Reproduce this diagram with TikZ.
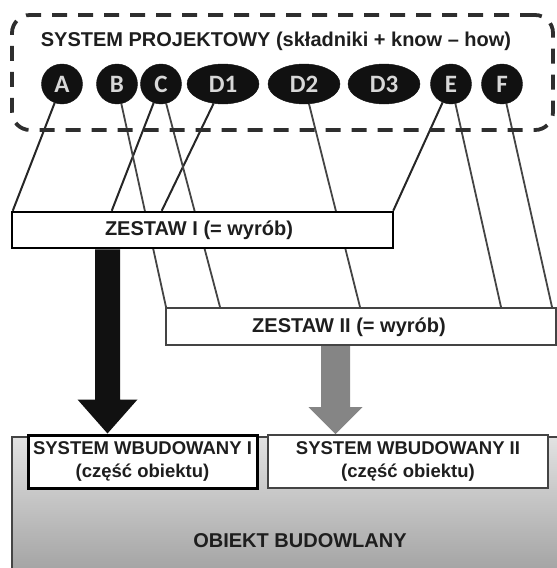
\documentclass[tikz,border=0pt]{standalone}
\usepackage{fontspec}
\setmainfont{Liberation Sans}
\newfontfamily\letterfont{Carlito}
\usetikzlibrary{shapes.geometric,calc,backgrounds}
\definecolor{ink}{HTML}{1E1E1E}
\definecolor{linec}{HTML}{262626}
\definecolor{linec2}{HTML}{444444}
\definecolor{ellc}{HTML}{111111}
\definecolor{lettc}{HTML}{D8D8D8}
\definecolor{dashc}{HTML}{2E2E2E}
\definecolor{arrowgray}{HTML}{858585}
\definecolor{shadetop}{HTML}{E2E2E2}
\definecolor{shadebot}{HTML}{A2A2A2}
\begin{document}
\begin{tikzpicture}[x=1pt,y=-1pt,
  ell/.style={ellipse, fill=ellc, draw=ellc, inner sep=0pt, minimum height=40pt,
    text=lettc, font=\letterfont\bfseries\fontsize{25}{25}\selectfont},
  circ/.style={ell, minimum width=41pt},
  oval/.style={ell, minimum width=72pt},
  link/.style={draw=linec, line width=2pt},
  link2/.style={draw=linec2, line width=1.8pt},
  lbl/.style={text=ink, font=\bfseries\fontsize{20}{23}\selectfont, inner sep=0pt},
  sublbl/.style={text=ink, font=\bfseries\fontsize{18.5}{23}\selectfont, align=center, inner sep=0pt},
  zbox/.style={rectangle, fill=white, inner sep=0pt},
]
\useasboundingbox (0,0) rectangle (557,568);

% design system container
\node[draw=dashc, line width=3.8pt, dash pattern=on 15pt off 11pt, rounded corners=18pt,
  minimum width=541pt, minimum height=115pt, inner sep=0pt] (sys) at (282.5,72.5) {};
\node[lbl] (title) at (276,41) {SYSTEM PROJEKTOWY (składniki + know – how)};

% components
\node[circ] (A) at (62,84) {A};
\node[circ] (B) at (117,84) {B};
\node[circ] (C) at (161,84) {C};
\node[oval] (D1) at (223,84) {D1};
\node[oval] (D2) at (304,84) {D2};
\node[oval] (D3) at (384,84) {D3};
\node[circ] (E) at (451,84) {E};
\node[circ] (F) at (502,84) {F};

% sets
\node[zbox, draw=black, line width=2.5pt, minimum width=381pt, minimum height=36pt] (z1) at (202.5,230) {};
\node[lbl] (z1t) at (199,230) {ZESTAW I (= wyrób)};
\node[zbox, draw=linec2, line width=2pt, minimum width=390pt, minimum height=37pt] (z2) at (361,326.5) {};
\node[lbl] (z2t) at (349,327) {ZESTAW II (= wyrób)};

% connectors (behind the boxes)
\begin{pgfonlayer}{background}
\draw[link] (A) -- ([xshift=2pt]z1.north west);
\draw[link] (C) -- ([xshift=101pt]z1.north west);
\draw[link] (D1) -- ([xshift=151pt]z1.north west);
\draw[link] (E) -- ([xshift=-1pt]z1.north east);
\draw[link2] (B) -- ([xshift=1pt]z2.north west);
\draw[link2] (C) -- ([xshift=55pt]z2.north west);
\draw[link2] (D2) -- ([xshift=195pt]z2.north west);
\draw[link2] (E) -- ([xshift=336pt]z2.north west);
\draw[link2] (F) -- ([xshift=387pt]z2.north west);
\end{pgfonlayer}

% building object
\begin{scope}
\clip (0,0) rectangle (557,568);
\path[top color=shadetop, bottom color=shadebot, draw=linec2, line width=1.5pt]
  (12,437) rectangle (575,575);
\end{scope}
\node[lbl] (obj) at (300,541) {OBIEKT BUDOWLANY};

% built-in systems
\node[zbox, draw=black, line width=3pt, minimum width=229pt, minimum height=53pt] (sw1) at (142.5,461.5) {};
\node[sublbl] (sw1t) at (sw1.center) {SYSTEM WBUDOWANY I\\(część obiektu)};
\node[zbox, draw=linec2, line width=2pt, minimum width=280pt, minimum height=53pt] (sw2) at (408,461.5) {};
\node[sublbl] (sw2t) at (sw2.center) {SYSTEM WBUDOWANY II\\(część obiektu)};

% block arrows
\coordinate (ax1) at (107.5,0);
\coordinate (ax2) at (335.5,0);
\coordinate (s1) at (z1.south -| ax1);
\coordinate (t1) at (ax1 |- sw1.north);
\coordinate (s2) at (z2.south -| ax2);
\coordinate (t2) at (ax2 |- sw2.north);
\fill[ellc] ($(s1)+(-12.5,0)$) -- ($(t1)+(-12.5,-34)$) -- ($(t1)+(-30,-34)$) -- (t1)
  -- ($(t1)+(30,-34)$) -- ($(t1)+(12.5,-34)$) -- ($(s1)+(12.5,0)$) -- cycle;
\fill[arrowgray] ($(s2)+(-14.5,0)$) -- ($(t2)+(-14.5,-27)$) -- ($(t2)+(-27,-27)$) -- (t2)
  -- ($(t2)+(27,-27)$) -- ($(t2)+(14.5,-27)$) -- ($(s2)+(14.5,0)$) -- cycle;
\end{tikzpicture}
\end{document}
